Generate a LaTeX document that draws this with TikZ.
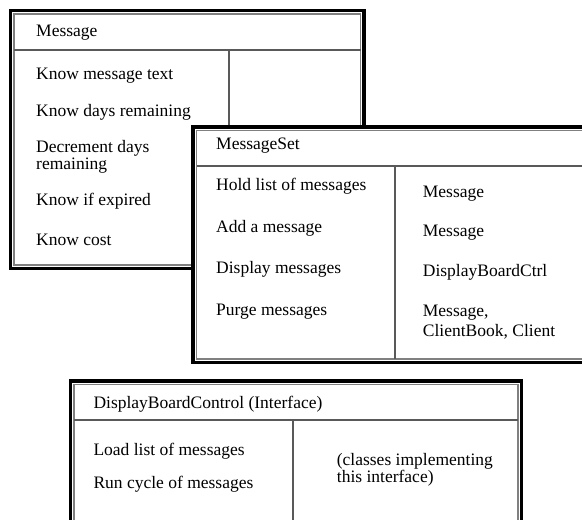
\documentclass[tikz,border=0pt]{standalone}
\usepackage{fontspec}
\setmainfont{Liberation Serif}
\begin{document}
\begin{tikzpicture}[x=1pt,y=-1pt,
  outerframe/.style={draw=black, line width=3.5pt, fill=white},
  innerframe/.style={draw=black!50, line width=1.5pt},
  rulel/.style={draw=black!65, line width=1.2pt},
  txt/.style={anchor=base west, inner sep=0pt, font=\fontsize{17.5}{14}\selectfont}]
\useasboundingbox (0,0) rectangle (582,520);
\clip (0,0) rectangle (582,520);
\fill[white] (0,0) rectangle (582,520);

% ---- Card 1: Message
\draw[outerframe] (10.5,10.5) rectangle (364,268.5);
\draw[innerframe] (14,14) rectangle (360.5,265);
\draw[rulel] (14,50) -- (360.5,50);
\draw[rulel] (229,50) -- (229,265);
\node[txt] (c1t) at (36,36.7) {Message};
\node[txt] (c1a) at (36,79.3) {Know message text};
\node[txt] (c1b) at (36,116.7) {Know days remaining};
\node[txt] (c1c) at (36,152.5) {Decrement days};
\node[txt] (c1d) at (36,169.5) {remaining};
\node[txt] (c1e) at (36,205) {Know if expired};
\node[txt] (c1f) at (36,245) {Know cost};

% ---- Card 2: MessageSet
\draw[outerframe] (193,127) rectangle (600,362.5);
\draw[innerframe] (196.5,130.5) rectangle (596.5,359);
\draw[rulel] (196.5,166) -- (596.5,166);
\draw[rulel] (395,166) -- (395,359);
\node[txt] (c2t) at (216,149.3) {MessageSet};
\node[txt] (c2a) at (216,190.7) {Hold list of messages};
\node[txt] (c2b) at (216,232.3) {Add a message};
\node[txt] (c2c) at (216,273.3) {Display messages};
\node[txt] (c2d) at (216,315.7) {Purge messages};
\node[txt] (c2r1) at (422.7,197.3) {Message};
\node[txt] (c2r2) at (422.7,236.7) {Message};
\node[txt] (c2r3) at (422.7,276.7) {DisplayBoardCtrl};
\node[txt] (c2r4) at (422.7,316.7) {Message,};
\node[txt] (c2r5) at (422.7,336.7) {ClientBook, Client};

% ---- Card 3: DisplayBoardControl
\draw[outerframe] (70.5,381) rectangle (521.5,540);
\draw[innerframe] (74,384.5) rectangle (518,536.5);
\draw[rulel] (74,420) -- (518,420);
\draw[rulel] (293,420) -- (293,536.5);
\node[txt] (c3t) at (93.3,408.3) {DisplayBoardControl (Interface)};
\node[txt] (c3a) at (93.3,455.7) {Load list of messages};
\node[txt] (c3b) at (93.3,488.3) {Run cycle of messages};
\node[txt] (c3r1) at (336.7,465) {(classes implementing};
\node[txt] (c3r2) at (336.7,482) {this interface)};
\end{tikzpicture}
\end{document}
